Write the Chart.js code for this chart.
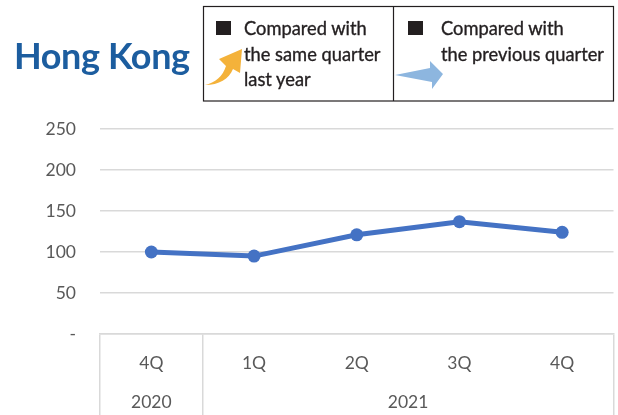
<!DOCTYPE html>
<html>
<head>
<meta charset="utf-8">
<script src="https://cdn.jsdelivr.net/npm/chart.js@4/dist/chart.umd.min.js"></script>
<style>
  html, body { margin: 0; padding: 0; background: #fff; overflow: hidden; }
  #wrap { position: relative; width: 618px; height: 415px; overflow: hidden; }
  #chart { position: absolute; left: 0; top: 0; }
  #title {
    position: absolute; left: 14px; top: 33px;
    font-family: Lato, "Open Sans", sans-serif; font-weight: 700;
    font-size: 36px; color: #1c5d9f; letter-spacing: -0.4px; white-space: nowrap;
  }
  #key { position: absolute; left: 0; top: 0; width: 618px; height: 110px; }
  .kt {
    position: absolute; font-family: Lato, "Open Sans", sans-serif;
    font-size: 18.3px; line-height: 25.5px; color: #231f20; white-space: nowrap;
    -webkit-text-stroke: 0.35px #231f20;
  }
</style>
</head>
<body>
<div id="wrap">
  <canvas id="chart" width="620" height="415"></canvas>
  <div id="title">Hong Kong</div>
  <svg id="key" width="618" height="110" viewBox="0 0 618 110">
    <rect x="203.5" y="6.5" width="410" height="94.5" fill="none" stroke="#231f20" stroke-width="1.2"/>
    <line x1="393.5" y1="6.5" x2="393.5" y2="101" stroke="#231f20" stroke-width="1.2"/>
    <rect x="216" y="21" width="15" height="14" fill="#231f20"/>
    <rect x="408" y="21" width="15" height="14" fill="#231f20"/>
    <!-- curved year-on-year arrow -->
    <path d="M205,85 C215,83 223,76 226,66 L219,59 L242,49 L240,73 L233,69 C229,79 219,85 205,85 Z" fill="#f4b23a"/>
    <!-- quarter-on-quarter arrow -->
    <path d="M395,75 L430,68 L430,61 L443,74 L432,89 L432,82 Z" fill="#8db6df"/>
  </svg>
  <div class="kt" style="left:244px; top:16px;">Compared with<br>the same quarter<br>last year</div>
  <div class="kt" style="left:441px; top:16px;">Compared with<br>the previous quarter</div>
</div>
<script>
// Quarterly index, Hong Kong
const quarters = ['4Q', '1Q', '2Q', '3Q', '4Q'];
const hkIndex = [100, 95, 121, 137, 124];
// Year groups shown under the quarters (first and last quarter index of each)
const years = ['2020', '2021'];
const yearFirst = [0, 1];
const yearLast = [0, 4];
// Value axis
const yMin = 0, yMax = 250, yStep = 50;

const axisGray = '#d9d9d9';
const labelGray = '#595959';
const labelFont = { family: 'Lato, "Open Sans", sans-serif', size: 17.5 };

const yearLabels = {
  id: 'yearLabels',
  afterDraw(chart) {
    const x = chart.scales.x;
    const ctx = chart.ctx;
    ctx.save();
    ctx.font = `${labelFont.size}px ${labelFont.family}`;
    ctx.fillStyle = labelGray;
    ctx.textAlign = 'center';
    ctx.textBaseline = 'middle';
    years.forEach((y, i) => {
      const cx = (x.getPixelForValue(yearFirst[i]) + x.getPixelForValue(yearLast[i])) / 2;
      ctx.fillText(y, cx, x.top + 68);
    });
    ctx.restore();
  }
};

new Chart(document.getElementById('chart'), {
  type: 'line',
  data: {
    labels: quarters,
    datasets: [{
      data: hkIndex,
      borderColor: '#4472c4',
      backgroundColor: '#4472c4',
      borderWidth: 5,
      pointRadius: 6.5,
      pointHoverRadius: 6.5,
      pointBorderWidth: 0,
      tension: 0
    }]
  },
  options: {
    responsive: false,
    animation: false,
    events: [],
    layout: { padding: { top: 129, right: 0, left: 0, bottom: 0 } },
    plugins: { legend: { display: false }, tooltip: { enabled: false } },
    scales: {
      x: {
        type: 'category',
        offset: true,
        afterFit(s) { s.height = 81; },
        border: { display: true, color: axisGray, width: 1.5 },
        grid: {
          offset: true,
          drawOnChartArea: false,
          drawTicks: true,
          tickLength: 81,
          lineWidth: 1.5,
          color: (c) => (c.type === 'scale' || c.index <= 1) ? axisGray : 'rgba(0,0,0,0)'
        },
        ticks: { color: labelGray, font: labelFont, padding: -62, maxRotation: 0, autoSkip: false }
      },
      y: {
        min: yMin,
        max: yMax,
        afterFit(s) { s.width = 100; },
        border: { display: false },
        grid: { color: axisGray, lineWidth: 1.5, drawTicks: false },
        ticks: {
          stepSize: yStep,
          color: labelGray,
          font: labelFont,
          padding: 24,
          callback: (v) => v === 0 ? '-' : v
        }
      }
    }
  },
  plugins: [yearLabels]
});
</script>
</body>
</html>
